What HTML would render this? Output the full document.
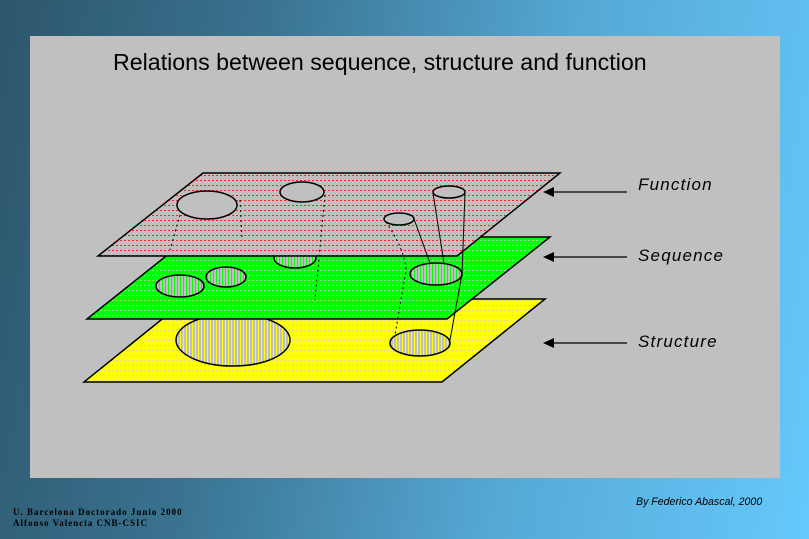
<!DOCTYPE html>
<html><head><style>
html,body{margin:0;padding:0;width:809px;height:539px;overflow:hidden}
body{background:linear-gradient(100deg,#2d566c 0%,#3a7391 30%,#55a9d6 65%,#66c8fb 100%)}
</style></head><body>
<svg width="809" height="539" style="position:absolute;left:0;top:0">
<defs>
<pattern id="pr" width="4" height="5" patternUnits="userSpaceOnUse"><rect width="4" height="5" fill="#c0c0c0"/><rect width="2" height="1" fill="#ff2020"/></pattern>
<pattern id="pg" width="4" height="5" patternUnits="userSpaceOnUse"><rect width="4" height="5" fill="#00ff00"/><rect width="2" height="1" fill="#a0d0a0"/></pattern>
<pattern id="py" width="4" height="5" patternUnits="userSpaceOnUse"><rect width="4" height="5" fill="#ffff00"/><rect width="2" height="1" fill="#d8d8b0"/></pattern>
<pattern id="vg" width="3" height="3" patternUnits="userSpaceOnUse"><rect width="3" height="3" fill="#c0c0c0"/><rect width="1" height="3" fill="#00ff00"/></pattern>
<pattern id="vy" width="3" height="3" patternUnits="userSpaceOnUse"><rect width="3" height="3" fill="#c0c0c0"/><rect width="1" height="3" fill="#ffff00"/></pattern>
</defs>
<rect x="30" y="36" width="750" height="442" fill="#c0c0c0"/>
<text x="113" y="70" font-family="Liberation Sans,sans-serif" font-size="23.2" fill="#000">Relations between sequence, structure and function</text>
<polygon points="187,299 545,299 442,382 84,382" fill="url(#py)" stroke="#000" stroke-width="1.5"/>
<ellipse cx="233" cy="340" rx="57" ry="26" fill="url(#vy)" stroke="#000" stroke-width="1.5"/>
<ellipse cx="420" cy="343" rx="30" ry="13" fill="url(#vy)" stroke="#000" stroke-width="1.5"/>
<polygon points="190,237 550,237 447,319 87,319" fill="url(#pg)" stroke="#000" stroke-width="1.5"/>
<ellipse cx="180" cy="286" rx="24" ry="11" fill="url(#vg)" stroke="#000" stroke-width="1.5"/>
<ellipse cx="226" cy="277" rx="20" ry="10" fill="url(#vg)" stroke="#000" stroke-width="1.5"/>
<ellipse cx="295" cy="258" rx="21" ry="10" fill="url(#vg)" stroke="#000" stroke-width="1.5"/>
<ellipse cx="436" cy="274" rx="26" ry="11" fill="url(#vg)" stroke="#000" stroke-width="1.5"/>
<polygon points="203,173 560,173 457,256 98,256" fill="url(#pr)" stroke="#000" stroke-width="1.5"/>
<ellipse cx="207" cy="205" rx="30" ry="14" fill="#c0c0c0" stroke="#000" stroke-width="1.5"/>
<ellipse cx="302" cy="192" rx="22" ry="10" fill="#c0c0c0" stroke="#000" stroke-width="1.5"/>
<ellipse cx="449" cy="192" rx="16" ry="6" fill="#c0c0c0" stroke="#000" stroke-width="1.5"/>
<ellipse cx="399" cy="219" rx="15" ry="6" fill="#c0c0c0" stroke="#000" stroke-width="1.5"/>
<g stroke="#000" stroke-width="1" fill="none">
<line x1="414" y1="219" x2="430" y2="263"/>
<line x1="433" y1="193" x2="444" y2="263"/>
<line x1="465" y1="193" x2="462" y2="274"/>
<line x1="462" y1="274" x2="450" y2="340"/>
</g>
<g stroke="#000" stroke-width="1" fill="none" stroke-dasharray="2,3">
<path d="M386,222 Q405,250 406,270 L395,335"/>
<line x1="240" y1="200" x2="242" y2="240"/>
<line x1="325" y1="195" x2="315" y2="300"/>
<line x1="180" y1="215" x2="170" y2="250"/>
</g>
<g stroke="#000" stroke-width="1.2">
<line x1="627" y1="192" x2="552" y2="192"/>
<line x1="627" y1="257" x2="552" y2="257"/>
<line x1="627" y1="343" x2="552" y2="343"/>
</g>
<g fill="#000">
<polygon points="543,192 554,187 554,197"/>
<polygon points="543,257 554,252 554,262"/>
<polygon points="543,343 554,338 554,348"/>
</g>
<g font-family="Liberation Sans,sans-serif" font-size="17" font-style="italic" fill="#000" letter-spacing="1.2">
<text x="638" y="190">Function</text>
<text x="638" y="261">Sequence</text>
<text x="638" y="347">Structure</text>
</g>
<text x="636" y="505" font-family="Liberation Sans,sans-serif" font-size="10.6" font-style="italic" fill="#000">By Federico Abascal, 2000</text>
<g font-family="Liberation Serif,serif" font-size="9" font-weight="bold" fill="#000" letter-spacing="1">
<text x="13" y="515">U. Barcelona Doctorado Junio  2000</text>
<text x="13" y="526">Alfonso Valencia CNB-CSIC</text>
</g>
</svg>
</body></html>
